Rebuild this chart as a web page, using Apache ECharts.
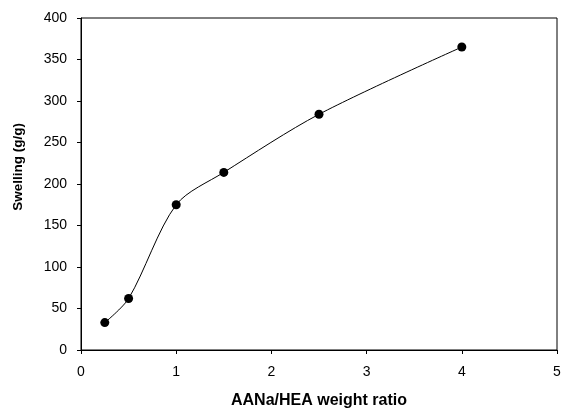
<!DOCTYPE html>
<html>
<head>
<meta charset="utf-8">
<script src="https://cdn.jsdelivr.net/npm/echarts@6/dist/echarts.min.js"></script>
<style>
    html, body { margin: 0; padding: 0; background: #fff; }
    #chart { width: 562px; height: 409px; }
</style>
</head>
<body>
<div id="chart"></div>
<script>
// AANa/HEA weight ratio vs swelling
const ratios = [0.25, 0.5, 1, 1.5, 2.5, 4];
const swelling = [33, 62, 175, 214, 284, 365];

let myChart = echarts.init(document.getElementById('chart'))
let option = {
    animation: false,
    grid: {
        left: 81,
        right: 5,
        top: 18,
        bottom: 59,
        outerBoundsMode: 'none',
        show: true,
        borderColor: '#000',
        borderWidth: 1
    },
    xAxis: {
        type: 'value',
        min: 0,
        max: 5,
        interval: 1,
        name: 'AANa/HEA weight ratio',
        nameLocation: 'middle',
        nameGap: 43,
        nameTextStyle: { fontFamily: 'Liberation Sans', fontWeight: 'bold', fontSize: 16, color: '#000' },
        axisLine: { lineStyle: { color: '#000', width: 1 } },
        axisTick: { show: true, length: 4, lineStyle: { color: '#000' } },
        axisLabel: { fontFamily: 'Liberation Sans', fontSize: 14, color: '#000', margin: 15 },
        splitLine: { show: false }
    },
    yAxis: {
        type: 'value',
        min: 0,
        max: 400,
        interval: 50,
        name: 'Swelling (g/g)',
        nameLocation: 'middle',
        nameGap: 56,
        nameTextStyle: { fontFamily: 'Liberation Sans', fontWeight: 'bold', fontSize: 13.5, color: '#000', padding: [0, 0, 0, 34] },
        axisLine: { show: true, lineStyle: { color: '#000', width: 1 } },
        axisTick: { show: true, length: 4, lineStyle: { color: '#000' } },
        axisLabel: { fontFamily: 'Liberation Sans', fontSize: 14, color: '#000', margin: 14 },
        splitLine: { show: false }
    },
    series: [
        {
            type: 'line',
            data: ratios.map((x, i) => [x, swelling[i]]),
            smooth: 0.3,
            symbol: 'circle',
            symbolSize: 9,
            itemStyle: { color: '#000' },
            lineStyle: { color: '#000', width: 1 }
        }
    ]
};
myChart.setOption(option);
</script>
</body>
</html>
